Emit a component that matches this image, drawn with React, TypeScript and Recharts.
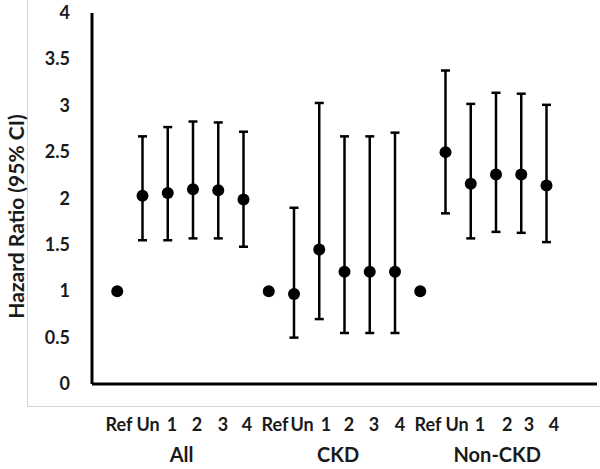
// Hazard ratio forest-style plot (Recharts scatter + error bars)

import { ScatterChart, Scatter, XAxis, YAxis, ErrorBar, Label } from 'recharts';

const CATEGORIES = ['Ref', 'Un', '1', '2', '3', '4', 'Ref', 'Un', '1', '2', '3', '4', 'Ref', 'Un', '1', '2', '3', '4'];
const GROUPS = ['All', 'CKD', 'Non-CKD'];
const GROUP_TICKS = [3.55, 9.75, 16.05];
// category labels sit a little right of their points, as in the original
const LABEL_TICKS = [1.07, 2.22, 3.17, 4.16, 5.19, 6.14, 7.25, 8.32, 9.27, 10.18, 11.17, 12.2, 13.31, 14.46, 15.37, 16.44, 17.31, 18.3];
const POSITIONS = [1, 2, 3, 4, 5, 6, 7, 8, 9, 10, 11, 12, 13, 14, 15, 16, 17, 18];

const HR = [1.0, 2.03, 2.06, 2.1, 2.09, 1.99, 1.0, 0.97, 1.45, 1.21, 1.21, 1.21, 1.0, 2.5, 2.16, 2.26, 2.26, 2.14];
const LOWER = [null, 1.55, 1.55, 1.57, 1.57, 1.48, null, 0.5, 0.7, 0.55, 0.55, 0.55, null, 1.84, 1.57, 1.64, 1.63, 1.53];
const UPPER = [null, 2.67, 2.77, 2.83, 2.82, 2.72, null, 1.9, 3.03, 2.67, 2.67, 2.71, null, 3.38, 3.02, 3.14, 3.13, 3.01];

const Y_TICKS = [0, 0.5, 1, 1.5, 2, 2.5, 3, 3.5, 4];

const FONT = "Lato, 'Open Sans', sans-serif";

const rows = POSITIONS.map((x, i) => ({
  x,
  hr: HR[i],
  lo: LOWER[i],
  hi: UPPER[i],
  err: LOWER[i] == null ? null : [HR[i] - (LOWER[i] as number), (UPPER[i] as number) - HR[i]],
}));
const refRows = rows.filter((r) => r.lo == null);
const estRows = rows.filter((r) => r.lo != null);

const Dot = (p: any) => <circle cx={p.cx} cy={p.cy} r={6} fill="#000" />;

const YTick = (p: any) => (
  <text x={p.x} y={p.y} dy={6} textAnchor="end" fontFamily={FONT} fontWeight={700} fontSize={18} fill="#1a1a1a">
    {p.payload.value}
  </text>
);

const CatTick = (p: any) => (
  <text x={p.x} y={p.y} dy={47} textAnchor="middle" fontFamily={FONT} fontWeight={700} fontSize={18} fill="#1a1a1a">
    {CATEGORIES[p.index]}
  </text>
);

const GroupTick = (p: any) => (
  <text x={p.x} y={p.y} dy={48} textAnchor="middle" fontFamily={FONT} fontWeight={700} fontSize={20} fill="#1a1a1a">
    {GROUPS[p.index]}
  </text>
);

const YTitle = (p: any) => {
  const vb = p.viewBox;
  const cx = 15;
  const cy = vb.y + vb.height / 2 + 18;
  return (
    <text
      x={cx}
      y={cy}
      transform={`rotate(-90 ${cx} ${cy})`}
      textAnchor="middle"
      dominantBaseline="central"
      fontFamily={FONT}
      fontWeight={700}
      fontSize={21}
      fill="#1a1a1a"
    >
      Hazard Ratio (95% CI)
    </text>
  );
};

export default function App() {
  return (
    <div style={{ position: 'absolute', left: 0, top: 0, width: 600, height: 469, background: '#fff' }}>
      <div
        style={{
          position: 'absolute',
          left: 27,
          top: 0,
          width: 573,
          height: 406,
          borderLeft: '1.5px solid #d3d3d3',
          borderBottom: '1.5px solid #d3d3d3',
        }}
      />
      <div style={{ position: 'absolute', left: 0, top: 0 }}>
        <ScatterChart width={600} height={469} margin={{ top: 13, right: 3, bottom: 25, left: 0 }}>
          <XAxis
            xAxisId="cat"
            type="number"
            dataKey="x"
            domain={[0, 20]}
            ticks={LABEL_TICKS}
            interval={0}
            axisLine={{ stroke: '#000', strokeWidth: 3 }}
            tickLine={false}
            tickSize={0}
            tickMargin={0}
            tick={<CatTick />}
            height={30}
          />
          <XAxis
            xAxisId="grp"
            type="number"
            dataKey="x"
            domain={[0, 20]}
            ticks={GROUP_TICKS}
            interval={0}
            axisLine={false}
            tickLine={false}
            tickSize={0}
            tickMargin={0}
            tick={<GroupTick />}
            height={30}
          />
          <YAxis
            type="number"
            dataKey="hr"
            domain={[0, 4]}
            ticks={Y_TICKS}
            interval={0}
            allowDataOverflow
            width={92}
            axisLine={{ stroke: '#000', strokeWidth: 3 }}
            tickLine={false}
            tickSize={0}
            tickMargin={22}
            tick={<YTick />}
          >
            <Label content={<YTitle />} />
          </YAxis>
          {/* reference dots ride on the group axis (same range) so that axis gets ticks */}
          <Scatter xAxisId="grp" data={refRows} dataKey="hr" shape={<Dot />} isAnimationActive={false} />
          <Scatter xAxisId="cat" data={estRows} dataKey="hr" shape={<Dot />} isAnimationActive={false}>
            <ErrorBar dataKey="err" direction="y" width={4.5} stroke="#000" strokeWidth={2.5} isAnimationActive={false} />
          </Scatter>
        </ScatterChart>
      </div>
    </div>
  );
}
